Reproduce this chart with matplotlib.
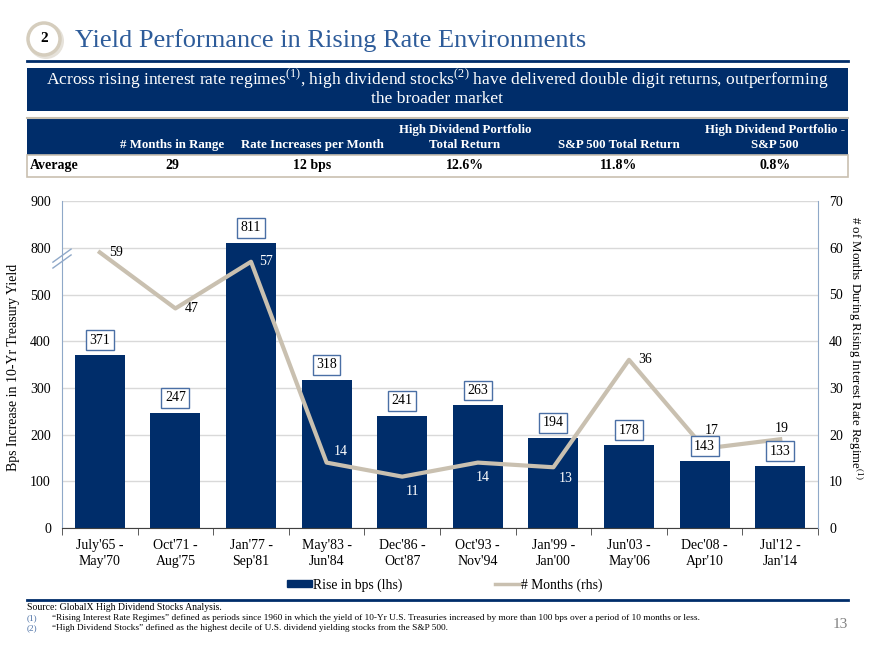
import numpy as np
import matplotlib
matplotlib.use("Agg")
import matplotlib.pyplot as plt
from matplotlib.patches import Rectangle, Ellipse
from matplotlib.lines import Line2D

periods = ["July'65 -\nMay'70", "Oct'71 -\nAug'75", "Jan'77 -\nSep'81",
           "May'83 -\nJun'84", "Dec'86 -\nOct'87", "Oct'93 -\nNov'94",
           "Jan'99 -\nJan'00", "Jun'03 -\nMay'06", "Dec'08 -\nApr'10",
           "Jul'12 -\nJan'14"]
rise_bps = [371, 247, 811, 318, 241, 263, 194, 178, 143, 133]
months = [59, 47, 57, 14, 11, 14, 13, 36, 17, 19]
left_ticks = [0, 100, 200, 300, 400, 500, 800, 900]

table_cols = ["", "# Months in Range", "Rate Increases per Month",
              "High Dividend Portfolio\nTotal Return", "S&P 500 Total Return",
              "High Dividend Portfolio -\nS&P 500"]
table_row = ["Average", "29", "12 bps", "12.6%", "11.8%", "0.8%"]

NAVY = "#002d6a"
BEIGE = "#c9c0b0"
AXBLUE = "#8fa8c8"
SERIF = ["Liberation Serif", "DejaVu Serif"]

plt.rcParams["font.family"] = SERIF
plt.rcParams["mathtext.fontset"] = "custom"
plt.rcParams["mathtext.rm"] = "Liberation Serif"

W, H = 880, 660
fig = plt.figure(figsize=(8.8, 6.6), dpi=100)


def fx(x):
    return x / W


def fy(y):
    return 1 - y / H


def rect(x0, y0, x1, y1, **kw):
    fig.add_artist(Rectangle((fx(x0), fy(y1)), fx(x1) - fx(x0), fy(y0) - fy(y1),
                             transform=fig.transFigure, **kw))


# header
fig.add_artist(Ellipse((fx(46), fy(41)), 36 / W, 36 / H, transform=fig.transFigure,
                       facecolor="#e6e2da", edgecolor="none"))
fig.add_artist(Ellipse((fx(44), fy(39)), 32 / W, 32 / H, transform=fig.transFigure,
                       facecolor="white", edgecolor="#d5cdbd", lw=2.5))
fig.text(fx(44), fy(39), "2", ha="center", va="center", fontsize=11,
         fontweight="bold", color="black")
fig.text(fx(75), fy(41), "Yield Performance in Rising Rate Environments",
         ha="left", va="center", fontsize=19, color="#2e5c9a")
fig.add_artist(Line2D([fx(27), fx(848)], [fy(61), fy(61)], transform=fig.transFigure,
                      color=NAVY, lw=2))

# banner
rect(27, 68, 848, 111, facecolor=NAVY, edgecolor="none")
fig.text(fx(437), fy(80),
         r"Across rising interest rate regimes$^{\mathrm{(1)}}$, high dividend "
         r"stocks$^{\mathrm{(2)}}$ have delivered double digit returns, outperforming",
         ha="center", va="center", fontsize=12.6, color="white")
fig.text(fx(437), fy(99), "the broader market", ha="center", va="center",
         fontsize=12.6, color="white")

# table
rect(27, 118, 848, 155, facecolor=NAVY, edgecolor="none")
rect(27, 155, 848, 177, facecolor="white", edgecolor=BEIGE, lw=1.2)
fig.add_artist(Line2D([fx(27), fx(848)], [fy(118), fy(118)], transform=fig.transFigure,
                      color=BEIGE, lw=1.5))
col_x = [30, 172, 312, 465, 619, 775]
for i, (hdr, val) in enumerate(zip(table_cols, table_row)):
    ha = "left" if i == 0 else "center"
    fig.text(fx(col_x[i]), fy(151), hdr, ha=ha, va="bottom", fontsize=9.3,
             fontweight="bold", color="white", linespacing=1.3)
    fig.text(fx(col_x[i]), fy(166), val, ha=ha, va="center", fontsize=10,
             fontweight="bold", color="black")

# chart
ax = fig.add_axes([fx(62), fy(528), fx(818) - fx(62), fy(201) - fy(528)])


def fwd(v):
    v = np.asarray(v, dtype=float)
    return np.where(v <= 500, v, np.where(v <= 700, 500 + (v - 500) * 0.005, v - 199))


def inv(u):
    u = np.asarray(u, dtype=float)
    return np.where(u <= 500, u, np.where(u <= 501, 500 + (u - 500) / 0.005, u + 199))


x = np.arange(len(periods))
ax.set_yscale("function", functions=(fwd, inv))
ax.bar(x, rise_bps, width=0.66, color=NAVY, zorder=2)
ax.set_ylim(0, 900)
ax.set_xlim(-0.5, len(periods) - 0.5)
ax.set_yticks(left_ticks)
ax.set_yticklabels([str(t) for t in left_ticks])
ax.yaxis.grid(True, color="#d9d9d9", lw=1)
ax.set_axisbelow(True)
ax.set_xticks(x)
ax.set_xticklabels(periods, fontsize=10, linespacing=1.3)
ax.set_xticks(np.arange(-0.5, len(periods)), minor=True)
ax.tick_params(axis="x", which="major", length=0, pad=8)
ax.tick_params(axis="x", which="minor", length=5, color="#404040")
ax.tick_params(axis="y", length=0, labelsize=10, pad=8)
ax.spines["top"].set_visible(False)
ax.spines["right"].set_visible(False)
ax.spines["left"].set_color(AXBLUE)
ax.spines["bottom"].set_color("#404040")
ax.set_ylabel("Bps Increase in 10-Yr Treasury Yield", fontsize=10)
ax.yaxis.set_label_coords(-0.056, 0.49)

# axis break marks
for dy in (0.0, 0.018):
    ax.plot([-0.012, 0.012], [0.795 + dy, 0.835 + dy], transform=ax.transAxes,
            color=AXBLUE, lw=1, clip_on=False)

ax2 = ax.twinx()
ax2.plot(x, months, color=BEIGE, lw=3, zorder=3)
ax2.set_ylim(0, 70)
ax2.set_yticks(np.arange(0, 71, 10))
ax2.tick_params(axis="y", length=0, labelsize=10, pad=8)
for s in ("top", "left", "bottom"):
    ax2.spines[s].set_visible(False)
ax2.spines["right"].set_color(AXBLUE)
ax2.set_ylabel(r"# of Months During Rising Interest Rate Regime$^{\mathrm{(1)}}$",
               rotation=270, fontsize=9.3, va="center")
ax2.yaxis.set_label_coords(1.049, 0.55)

# bar value boxes
for xi, v in zip(x, rise_bps):
    ax2.annotate(str(v), (xi, v), xycoords=ax.transData, xytext=(0, 6),
                 textcoords="offset points", ha="center", va="bottom", fontsize=10,
                 zorder=5,
                 bbox=dict(boxstyle="square,pad=0.25", fc="white", ec="#4a6fa5", lw=1))

# line labels (offsets in px, white where sitting on a bar)
label_off = [(16, 0), (16, 0), (15, 0), (14, 11), (10, -15), (5, -15), (12, -11),
             (16, 0), (7, 18), (2, 11)]
label_col = ["black", "black", "white", "white", "white", "white", "white",
             "black", "black", "black"]
for xi, m, (dx, dy), c in zip(x, months, label_off, label_col):
    ax2.annotate(str(m), (xi, m), xytext=(dx * 0.72, dy * 0.72),
                 textcoords="offset points", ha="center", va="center",
                 fontsize=10, color=c, zorder=4)

handles = [Rectangle((0, 0), 1, 1, color=NAVY), Line2D([], [], color=BEIGE, lw=2.5)]
fig.legend(handles, ["Rise in bps (lhs)", "# Months (rhs)"], loc="center",
           bbox_to_anchor=(fx(445), fy(585)), ncol=2, frameon=False, fontsize=9.8,
           handlelength=1.8, handleheight=0.4, columnspacing=6.8, handletextpad=0.1)

# footer
fig.add_artist(Line2D([fx(27), fx(848)], [fy(600), fy(600)], transform=fig.transFigure,
                      color=NAVY, lw=2))
fig.text(fx(27), fy(608), "Source: GlobalX High Dividend Stocks Analysis.",
         ha="left", va="center", fontsize=7)
notes = ["\u201cRising Interest Rate Regimes\u201d defined as periods since 1960 in which the "
         "yield of 10-Yr U.S. Treasuries increased by more than 100 bps over a period of "
         "10 months or less.",
         "\u201cHigh Dividend Stocks\u201d defined as the highest decile of U.S. dividend "
         "yielding stocks from the S&P 500."]
for i, note in enumerate(notes):
    yy = fy(618 + i * 10)
    fig.text(fx(27), yy, f"({i + 1})", ha="left", va="center", fontsize=6.7,
             color="#4a6fa5")
    fig.text(fx(52), yy, note, ha="left", va="center", fontsize=6.7)
fig.text(fx(848), fy(625), "13", ha="right", va="center", fontsize=11, color="#808080")

fig.savefig("out.png", dpi=100)
